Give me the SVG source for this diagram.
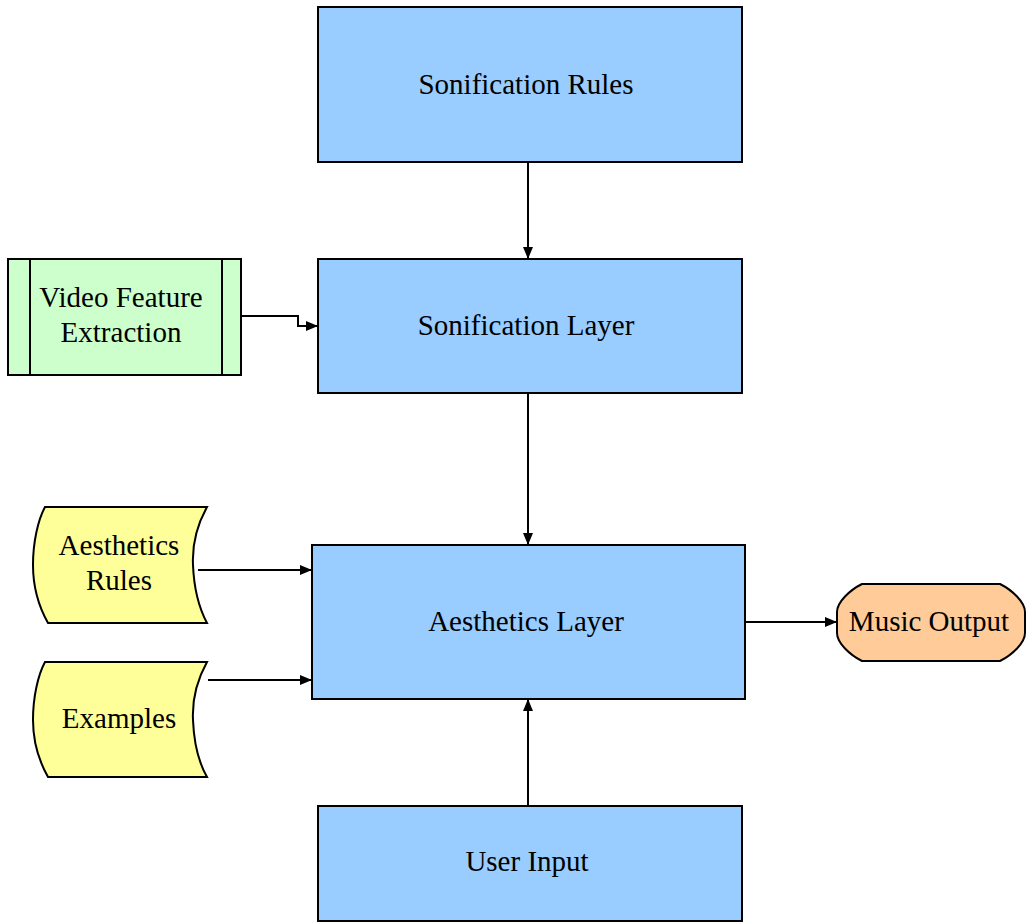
<svg xmlns="http://www.w3.org/2000/svg" width="1026" height="922" viewBox="0 0 1026 922">
<defs>
<style>
.box{fill:#99CCFF;stroke:#000;stroke-width:2}
.green{fill:#CCFFCC;stroke:#000;stroke-width:2}
.yellow{fill:#FFFF99;stroke:#000;stroke-width:2}
.orange{fill:#FFCC99;stroke:#000;stroke-width:2}
.ln{fill:none;stroke:#000;stroke-width:2}
text{font-family:"Liberation Serif","Times New Roman",serif;font-size:29px;fill:#000;text-anchor:middle}
</style>
<marker id="arr" viewBox="0 0 12 10" refX="12" refY="5" markerWidth="12" markerHeight="10" markerUnits="userSpaceOnUse" orient="auto">
<path d="M0,0 L12,5 L0,10 Z" fill="#000"/>
</marker>
</defs>
<rect width="1026" height="922" fill="#fff"/>
<g id="connectors">
<path class="ln" d="M528,162 V259" marker-end="url(#arr)"/>
<path class="ln" d="M241,316 H298 V326 H318" marker-end="url(#arr)"/>
<path class="ln" d="M528,393 V545" marker-end="url(#arr)"/>
<path class="ln" d="M198,570 H312" marker-end="url(#arr)"/>
<path class="ln" d="M208,680 H312" marker-end="url(#arr)"/>
<path class="ln" d="M528,806 V699" marker-end="url(#arr)"/>
<path class="ln" d="M745,622 H837" marker-end="url(#arr)"/>
</g>
<g id="sonification-rules">
<rect class="box" x="318" y="7" width="424" height="155"/>
<text x="526" y="94">Sonification Rules</text>
</g>
<g id="sonification-layer">
<rect class="box" x="318" y="259" width="424" height="134"/>
<text x="526" y="335">Sonification Layer</text>
</g>
<g id="video-feature-extraction">
<rect class="green" x="8" y="259" width="233" height="116"/>
<line class="ln" x1="30" y1="259" x2="30" y2="375"/>
<line class="ln" x1="222" y1="259" x2="222" y2="375"/>
<text x="121" y="307">Video Feature</text>
<text x="121" y="342">Extraction</text>
</g>
<g id="aesthetics-rules">
<path class="yellow" d="M45,507 L207,507 C197,525 192,545 193,565 C194,590 199,608 207,623 L48,623 C39,607 33,588 33,565 C33,542 38,520 45,507 Z"/>
<text x="119" y="555">Aesthetics</text>
<text x="119" y="590">Rules</text>
</g>
<g id="examples">
<path class="yellow" d="M45,662 L207,662 C197,680 192,700 193,720 C194,745 199,763 207,777 L48,777 C39,761 33,742 33,720 C33,697 38,675 45,662 Z"/>
<text x="119" y="728">Examples</text>
</g>
<g id="aesthetics-layer">
<rect class="box" x="312" y="545" width="433" height="154"/>
<text x="526" y="631">Aesthetics Layer</text>
</g>
<g id="music-output">
<path class="orange" d="M862,584 H1000 C1012,590 1025,602 1025,612 V633 C1025,643 1012,655 1000,661 H862 C850,655 837,643 837,633 V612 C837,602 850,590 862,584 Z"/>
<text x="929" y="631">Music Output</text>
</g>
<g id="user-input">
<rect class="box" x="318" y="806" width="424" height="115"/>
<text x="527" y="871">User Input</text>
</g>
</svg>
